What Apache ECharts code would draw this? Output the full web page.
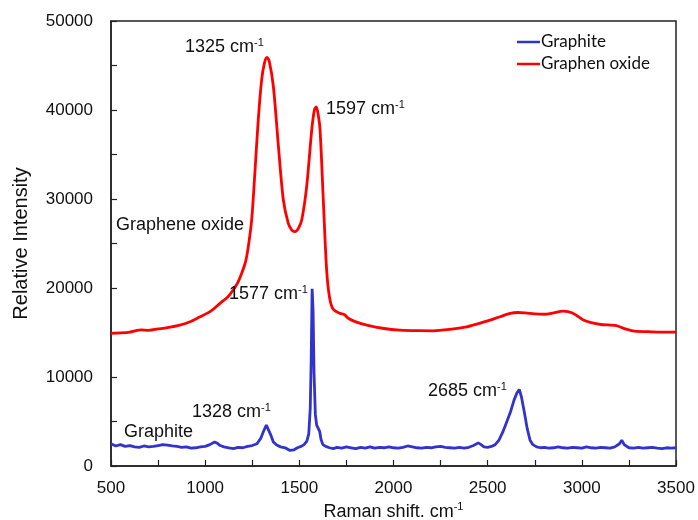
<!DOCTYPE html>
<html>
<head>
<meta charset="utf-8">
<script src="https://cdn.jsdelivr.net/npm/echarts@6/dist/echarts.min.js"></script>
<style>html,body{margin:0;padding:0;background:#fff}#c{width:698px;height:520px}</style>
</head>
<body>
<div id="c"></div>
<script>
// Graphene oxide (red)
var goShift = [500,550,600,640,660,700,750,800,866,920,973,1030,1079,1120,1149,1175,1194,1215,1229,1247,1265,1282,1300,1315,1328,1340,1362,1389,1415,1441,1460,1477,1495,1513,1539,1566,1580,1590,1600,1610,1628,1645,1660,1680,1716,1740,1760,1800,1858,1950,2035,2130,2211,2300,2389,2450,2500,2566,2620,2660,2700,2750,2800,2850,2900,2950,3008,3050,3100,3183,3230,3280,3350,3420,3500];
var goIntensity = [14900,14950,15050,15250,15300,15250,15400,15550,15830,16200,16770,17400,18280,19000,19780,20700,21660,23000,24650,27660,33290,38920,43420,45300,45900,45500,42670,35910,29910,27280,26500,26340,26700,27660,31410,37790,40000,40350,39500,37790,29540,22030,19000,17600,17150,17000,16600,16200,15830,15450,15270,15200,15190,15350,15640,16000,16300,16770,17150,17250,17200,17100,17050,17200,17400,17200,16400,16100,15900,15760,15400,15150,15100,15050,15050];

// Graphite (blue)
var grShift = [500,525,550,575,600,625,650,675,700,725,750,775,800,825,850,875,900,925,950,975,1000,1025,1050,1065,1080,1100,1125,1150,1175,1200,1225,1250,1275,1295,1310,1325,1335,1348,1362,1380,1400,1425,1450,1470,1490,1510,1525,1540,1550,1558,1563,1568,1573,1578,1585,1592,1600,1608,1615,1625,1640,1660,1680,1700,1725,1750,1775,1800,1825,1850,1875,1900,1925,1950,1975,2000,2025,2050,2075,2100,2125,2150,2175,2200,2225,2250,2275,2300,2325,2350,2375,2400,2425,2450,2465,2480,2500,2520,2540,2560,2580,2600,2620,2640,2655,2668,2680,2695,2710,2725,2740,2760,2780,2800,2825,2850,2875,2900,2925,2950,2975,3000,3025,3050,3075,3100,3125,3150,3175,3200,3212,3225,3250,3275,3300,3325,3350,3375,3400,3425,3450,3475,3500];
var grIntensity = [2500,2250,2400,2200,2300,2150,2100,2250,2150,2200,2300,2400,2350,2250,2200,2100,2150,2000,2050,2150,2200,2400,2700,2550,2300,2150,2050,1950,2100,2050,2200,2300,2500,3100,3900,4600,4400,3500,2700,2350,2150,2050,1750,1800,2050,2200,2400,2800,3600,6500,12000,19900,17500,10500,5800,4600,4400,3900,3000,2400,2200,2050,1950,2100,2000,2150,2050,1950,2100,2000,2150,2000,2100,2050,2150,2050,2000,2100,2250,2150,2050,2000,2100,2050,2150,2200,2100,2050,2000,2100,2000,2100,2300,2600,2400,2150,2100,2200,2400,2900,3800,4900,6000,7400,8200,8600,7700,6000,4200,2900,2400,2150,2050,2100,2000,2050,2150,2050,2000,2100,2050,2000,2150,2050,2000,2100,2050,2000,2150,2500,2900,2400,2050,2000,2100,2000,2050,2100,2000,1950,2050,2000,2050];

var seriesNames = ['Graphite', 'Graphen oxide'];
var xTicks = [500, 1000, 1500, 2000, 2500, 3000, 3500];
var yTicks = [0, 10000, 20000, 30000, 40000, 50000];

function pairs(xs, ys) { return xs.map(function (x, i) { return [x, ys[i]]; }); }

var chart = echarts.init(document.getElementById('c'));
var annFont = 'Liberation Sans, Arial, sans-serif';
var rich = {
  n: { fontSize: 18, fontFamily: annFont, fill: '#111', lineHeight: 20 },
  s: { fontSize: 11, fontFamily: annFont, fill: '#111', padding: [0, 0, 9, 0] }
};
function ann(txt, left, top) {
  return { type: 'text', left: left, top: top, z: 100,
    style: { text: '{n|' + txt + '}{s|-1}', rich: rich } };
}
function lbl(txt, left, top) {
  return { type: 'text', left: left, top: top, z: 100,
    style: { text: txt, fontSize: 18, fontFamily: annFont, fill: '#111' } };
}

chart.setOption({
  animation: false,
  backgroundColor: '#fff',
  grid: { left: 111, top: 21, right: 22, bottom: 54, outerBoundsMode: 'none', containLabel: false,
    show: true, borderColor: '#222', borderWidth: 1.5, backgroundColor: 'transparent' },
  legend: {
    orient: 'vertical', left: 517, top: 33, itemGap: 4, padding: 0,
    icon: 'rect', itemWidth: 23, itemHeight: 2.5,
    textStyle: { fontFamily: 'Lato, Open Sans, sans-serif', fontSize: 17, color: '#111', lineHeight: 18, padding: [0, 0, 0, -4] },
    data: seriesNames
  },
  xAxis: {
    type: 'value', min: 500, max: 3500, interval: 250,
    name: '{n|Raman shift. cm}{s|-1}', nameLocation: 'middle', nameGap: 31,
    nameTextStyle: { rich: {
      n: { fontSize: 18, fontFamily: annFont, color: '#111' },
      s: { fontSize: 11, fontFamily: annFont, color: '#111', padding: [0, 0, 9, 0] } } },
    axisLine: { lineStyle: { color: '#222', width: 1.5 } },
    axisTick: { inside: true, length: 6, lineStyle: { color: '#222', width: 1.2 } },
    axisLabel: { fontSize: 17, fontFamily: annFont, color: '#111', margin: 14,
      formatter: function (v) { return xTicks.indexOf(v) >= 0 ? String(v) : ''; } },
    splitLine: { show: false }
  },
  yAxis: {
    type: 'value', min: 0, max: 50000, interval: 5000,
    name: 'Relative Intensity', nameLocation: 'middle', nameGap: 80, nameRotate: 90,
    nameTextStyle: { fontSize: 20, fontFamily: annFont, color: '#111' },
    axisLine: { show: true, lineStyle: { color: '#222', width: 1.5 } },
    axisTick: { show: true, inside: true, length: 6, lineStyle: { color: '#222', width: 1.2 } },
    axisLabel: { fontSize: 17, fontFamily: annFont, color: '#111', margin: 18,
      formatter: function (v) { return yTicks.indexOf(v) >= 0 ? String(v) : ''; } },
    splitLine: { show: false }
  },
  series: [
    { name: seriesNames[0], type: 'line', data: pairs(grShift, grIntensity), symbol: 'none',
      lineStyle: { color: '#3232cc', width: 2.8 }, itemStyle: { color: '#3232cc' }, z: 3 },
    { name: seriesNames[1], type: 'line', data: pairs(goShift, goIntensity), symbol: 'none', smooth: 0.3,
      lineStyle: { color: '#ff0000', width: 2.8 }, itemStyle: { color: '#ff0000' }, z: 2 }
  ],
  graphic: [
    ann('1325 cm', 185, 37),
    ann('1597 cm', 326, 99),
    lbl('Graphene oxide', 116, 216),
    ann('1577 cm', 229, 284),
    ann('1328 cm', 192, 402),
    lbl('Graphite', 124, 423),
    ann('2685 cm', 428, 381)
  ]
});
</script>
</body>
</html>
